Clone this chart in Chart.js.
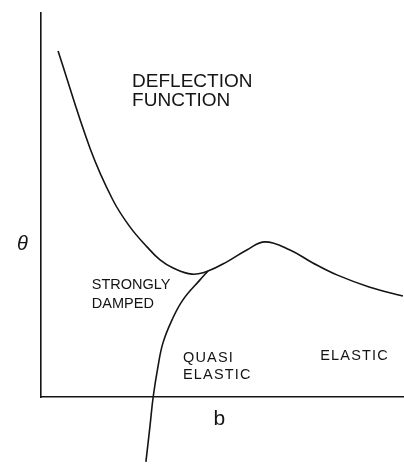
<!DOCTYPE html>
<html>
<head>
<meta charset="utf-8">
<script src="https://cdn.jsdelivr.net/npm/chart.js@4/dist/chart.umd.min.js"></script>
<style>
  html, body { margin: 0; padding: 0; background: #ffffff; }
  #wrap { width: 404px; height: 464px; }
</style>
</head>
<body>
<div id="wrap"><canvas id="c" width="404" height="464"></canvas></div>
<script>
// Deflection function theta(b): (arbitrary units, axes 0..10)
const deflectionB     = [0.47, 1.35, 1.98, 2.45, 2.92, 3.28, 3.64, 4.16, 4.60, 5.12, 5.67, 6.17, 6.86, 7.49, 8.15, 9.06, 9.97];
const deflectionTheta = [9.01, 6.48, 5.13, 4.43, 3.91, 3.57, 3.36, 3.20, 3.28, 3.52, 3.83, 4.04, 3.83, 3.49, 3.18, 2.86, 2.63];

// Quasi-elastic branch, running below the b axis and joining the main curve
const quasiB     = [2.89, 3.00, 3.09, 3.22, 3.36, 3.61, 3.91, 4.38, 4.60];
const quasiTheta = [-1.69, -0.78, 0.00, 0.78, 1.41, 2.01, 2.53, 3.05, 3.28];

// Axis titles and region labels
const labelTexts = ['DEFLECTION', 'FUNCTION', 'STRONGLY', 'DAMPED', 'QUASI', 'ELASTIC', 'ELASTIC', 'b', 'θ'];
const labelB     = [2.51, 2.51, 1.40, 1.40, 3.91, 3.91, 7.69, 4.75, -0.66];
const labelTheta = [8.07, 7.58, 2.81, 2.32, 0.91, 0.47, 0.96, -0.73, 3.83];

const INK = '#141414';
const labelStyle = [
  {font: '19px "Liberation Sans"', sp: '0px'},
  {font: '19px "Liberation Sans"', sp: '0px'},
  {font: '14.5px "Liberation Sans"', sp: '0px'},
  {font: '14.5px "Liberation Sans"', sp: '0px'},
  {font: '14.5px "Liberation Sans"', sp: '1.2px'},
  {font: '14.5px "Liberation Sans"', sp: '1.2px'},
  {font: '14.5px "Liberation Sans"', sp: '1.2px'},
  {font: '21px "Liberation Sans"', sp: '0px'},
  {font: 'italic 20px "Liberation Sans"', sp: '0px'}
];

const toPts = (xs, ys) => xs.map((x, i) => ({x: x, y: ys[i]}));

const labelPlugin = {
  id: 'labels',
  afterDatasetsDraw(chart) {
    const ctx = chart.ctx;
    const sx = chart.scales.x, sy = chart.scales.y;
    ctx.save();
    ctx.fillStyle = INK;
    ctx.textAlign = 'left';
    ctx.textBaseline = 'alphabetic';
    labelTexts.forEach((t, i) => {
      ctx.font = labelStyle[i].font;
      if ('letterSpacing' in ctx) ctx.letterSpacing = labelStyle[i].sp;
      ctx.fillText(t, sx.getPixelForValue(labelB[i]), sy.getPixelForValue(labelTheta[i]));
    });
    ctx.restore();
  }
};

new Chart(document.getElementById('c'), {
  type: 'scatter',
  data: {
    datasets: [
      {
        label: 'Deflection function',
        data: toPts(deflectionB, deflectionTheta),
        showLine: true,
        borderColor: INK,
        borderWidth: 1.6,
        pointRadius: 0,
        tension: 0.4,
        clip: false
      },
      {
        label: 'Quasi elastic',
        data: toPts(quasiB, quasiTheta),
        showLine: true,
        borderColor: INK,
        borderWidth: 1.6,
        pointRadius: 0,
        tension: 0.4,
        clip: false
      }
    ]
  },
  options: {
    responsive: false,
    animation: false,
    devicePixelRatio: 1,
    layout: { autoPadding: false, padding: { left: 41, top: 13, right: 0, bottom: 67 } },
    plugins: { legend: { display: false }, tooltip: { enabled: false } },
    events: [],
    scales: {
      x: {
        type: 'linear', min: 0, max: 10,
        grid: { display: false, drawTicks: false },
        ticks: { display: false },
        border: { display: true, color: INK, width: 1.6 }
      },
      y: {
        type: 'linear', min: 0, max: 10,
        grid: { display: false, drawTicks: false },
        ticks: { display: false },
        border: { display: true, color: INK, width: 1.6 }
      }
    }
  },
  plugins: [labelPlugin]
});
</script>
</body>
</html>
